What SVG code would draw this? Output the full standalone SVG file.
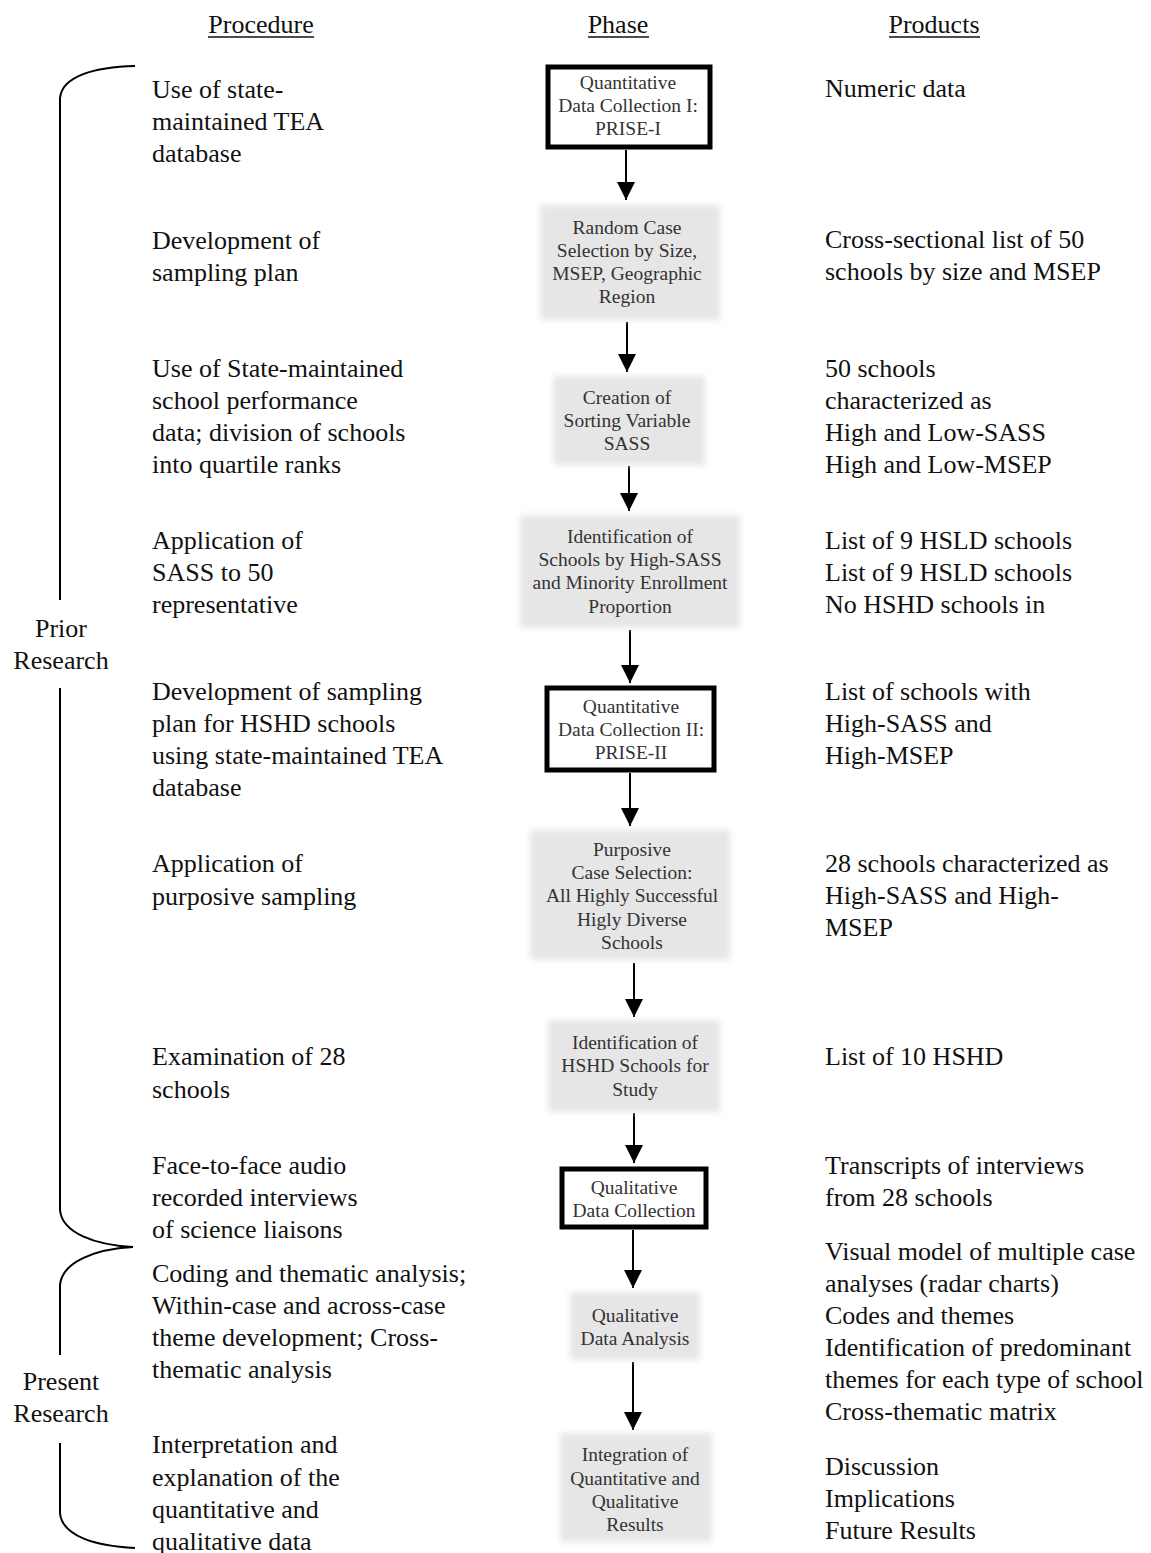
<svg xmlns="http://www.w3.org/2000/svg" width="1151" height="1553" viewBox="0 0 1151 1553">
<style>
.t{font-family:"Liberation Serif","Times New Roman",serif;font-size:26px;fill:#111}
.h{font-family:"Liberation Serif","Times New Roman",serif;font-size:26px;fill:#111;text-anchor:middle}
.b{font-family:"Liberation Serif","Times New Roman",serif;font-size:19.5px;fill:#333;text-anchor:middle}
.lbl{font-family:"Liberation Serif","Times New Roman",serif;font-size:26px;fill:#111;text-anchor:middle}
.thick{fill:#fff;stroke:#000;stroke-width:5}
.gray{fill:#e6e6e6;filter:url(#soft)}
.con{stroke:#000;stroke-width:2;fill:none;marker-end:url(#ah)}
.br{stroke:#000;stroke-width:2;fill:none}
.ul{stroke:#111;stroke-width:1.3}
</style>
<defs>
<filter id="soft" x="-10%" y="-10%" width="120%" height="120%"><feGaussianBlur stdDeviation="3"/></filter>
<marker id="ah" markerUnits="userSpaceOnUse" markerWidth="18" markerHeight="18" viewBox="0 0 18 18" refX="18" refY="9" orient="auto"><path d="M0,0 L18,9 L0,18 Z" fill="#000"/></marker>
</defs>
<rect width="1151" height="1553" fill="#fff"/>

<g id="headers">
<text class="h" x="261" y="33">Procedure</text>
<line class="ul" x1="208" y1="37" x2="314" y2="37"/>
<text class="h" x="618" y="33">Phase</text>
<line class="ul" x1="588" y1="37" x2="649" y2="37"/>
<text class="h" x="934" y="33">Products</text>
<line class="ul" x1="889" y1="37" x2="980" y2="37"/>
</g>

<g id="braces">
<path class="br" d="M135,66 C95,67 62,76 60,98 L60,600"/>
<path class="br" d="M60,688 L60,1210 C62,1233 95,1245 133,1247"/>
<path class="br" d="M133,1247 C95,1249 62,1262 60,1285 L60,1355"/>
<path class="br" d="M60,1443 L60,1513 C62,1536 95,1546 135,1548"/>
<text class="lbl" x="61" y="637">Prior</text>
<text class="lbl" x="61" y="669">Research</text>
<text class="lbl" x="61" y="1390">Present</text>
<text class="lbl" x="61" y="1422">Research</text>
</g>

<g id="connectors">
<line class="con" x1="626" y1="150" x2="626" y2="200"/>
<line class="con" x1="627" y1="322" x2="627" y2="372"/>
<line class="con" x1="629" y1="466" x2="629" y2="511"/>
<line class="con" x1="630" y1="630" x2="630" y2="683"/>
<line class="con" x1="630" y1="773" x2="630" y2="826"/>
<line class="con" x1="634" y1="963" x2="634" y2="1017"/>
<line class="con" x1="634" y1="1113" x2="634" y2="1163"/>
<line class="con" x1="633" y1="1230" x2="633" y2="1288"/>
<line class="con" x1="633" y1="1362" x2="633" y2="1430"/>
</g>

<g id="n1">
<rect class="thick" x="548" y="67" width="162" height="80"/>
<text class="b" x="628" y="89">Quantitative</text>
<text class="b" x="628" y="112">Data Collection I:</text>
<text class="b" x="628" y="135">PRISE-I</text>
</g>
<g id="n2">
<rect class="gray" x="540" y="205" width="180" height="115"/>
<text class="b" x="627" y="234">Random Case</text>
<text class="b" x="627" y="257">Selection by Size,</text>
<text class="b" x="627" y="280">MSEP, Geographic</text>
<text class="b" x="627" y="303">Region</text>
</g>
<g id="n3">
<rect class="gray" x="553" y="376" width="152" height="89"/>
<text class="b" x="627" y="404">Creation of</text>
<text class="b" x="627" y="427">Sorting Variable</text>
<text class="b" x="627" y="450">SASS</text>
</g>
<g id="n4">
<rect class="gray" x="520" y="515" width="220" height="113"/>
<text class="b" x="630" y="543">Identification of</text>
<text class="b" x="630" y="566">Schools by High-SASS</text>
<text class="b" x="630" y="589">and Minority Enrollment</text>
<text class="b" x="630" y="613">Proportion</text>
</g>
<g id="n5">
<rect class="thick" x="547" y="688" width="167" height="82"/>
<text class="b" x="631" y="713">Quantitative</text>
<text class="b" x="631" y="736">Data Collection II:</text>
<text class="b" x="631" y="759">PRISE-II</text>
</g>
<g id="n6">
<rect class="gray" x="530" y="830" width="200" height="130"/>
<text class="b" x="632" y="856">Purposive</text>
<text class="b" x="632" y="879">Case Selection:</text>
<text class="b" x="632" y="902">All Highly Successful</text>
<text class="b" x="632" y="926">Higly Diverse</text>
<text class="b" x="632" y="949">Schools</text>
</g>
<g id="n7">
<rect class="gray" x="548" y="1020" width="172" height="92"/>
<text class="b" x="635" y="1049">Identification of</text>
<text class="b" x="635" y="1072">HSHD Schools for</text>
<text class="b" x="635" y="1096">Study</text>
</g>
<g id="n8">
<rect class="thick" x="562" y="1169" width="144" height="58"/>
<text class="b" x="634" y="1194">Qualitative</text>
<text class="b" x="634" y="1217">Data Collection</text>
</g>
<g id="n9">
<rect class="gray" x="570" y="1292" width="130" height="68"/>
<text class="b" x="635" y="1322">Qualitative</text>
<text class="b" x="635" y="1345">Data Analysis</text>
</g>
<g id="n10">
<rect class="gray" x="560" y="1433" width="152" height="109"/>
<text class="b" x="635" y="1461">Integration of</text>
<text class="b" x="635" y="1485">Quantitative and</text>
<text class="b" x="635" y="1508">Qualitative</text>
<text class="b" x="635" y="1531">Results</text>
</g>

<g id="procedure">
<text class="t" x="152" y="98">Use of state-</text>
<text class="t" x="152" y="130">maintained TEA</text>
<text class="t" x="152" y="162">database</text>
<text class="t" x="152" y="249">Development of</text>
<text class="t" x="152" y="281">sampling plan</text>
<text class="t" x="152" y="377">Use of State-maintained</text>
<text class="t" x="152" y="409">school performance</text>
<text class="t" x="152" y="441">data; division of schools</text>
<text class="t" x="152" y="473">into quartile ranks</text>
<text class="t" x="152" y="549">Application of</text>
<text class="t" x="152" y="581">SASS to 50</text>
<text class="t" x="152" y="613">representative</text>
<text class="t" x="152" y="700">Development of sampling</text>
<text class="t" x="152" y="732">plan for HSHD schools</text>
<text class="t" x="152" y="764">using state-maintained TEA</text>
<text class="t" x="152" y="796">database</text>
<text class="t" x="152" y="872">Application of</text>
<text class="t" x="152" y="905">purposive sampling</text>
<text class="t" x="152" y="1065">Examination of 28</text>
<text class="t" x="152" y="1098">schools</text>
<text class="t" x="152" y="1174">Face-to-face audio</text>
<text class="t" x="152" y="1206">recorded interviews</text>
<text class="t" x="152" y="1238">of science liaisons</text>
<text class="t" x="152" y="1282">Coding and thematic analysis;</text>
<text class="t" x="152" y="1314">Within-case and across-case</text>
<text class="t" x="152" y="1346">theme development; Cross-</text>
<text class="t" x="152" y="1378">thematic analysis</text>
<text class="t" x="152" y="1453">Interpretation and</text>
<text class="t" x="152" y="1486">explanation of the</text>
<text class="t" x="152" y="1518">quantitative and</text>
<text class="t" x="152" y="1550">qualitative data</text>
</g>

<g id="products">
<text class="t" x="825" y="97">Numeric data</text>
<text class="t" x="825" y="248">Cross-sectional list of 50</text>
<text class="t" x="825" y="280">schools by size and MSEP</text>
<text class="t" x="825" y="377">50 schools</text>
<text class="t" x="825" y="409">characterized as</text>
<text class="t" x="825" y="441">High and Low-SASS</text>
<text class="t" x="825" y="473">High and Low-MSEP</text>
<text class="t" x="825" y="549">List of 9 HSLD schools</text>
<text class="t" x="825" y="581">List of 9 HSLD schools</text>
<text class="t" x="825" y="613">No HSHD schools in</text>
<text class="t" x="825" y="700">List of schools with</text>
<text class="t" x="825" y="732">High-SASS and</text>
<text class="t" x="825" y="764">High-MSEP</text>
<text class="t" x="825" y="872">28 schools characterized as</text>
<text class="t" x="825" y="904">High-SASS and High-</text>
<text class="t" x="825" y="936">MSEP</text>
<text class="t" x="825" y="1065">List of 10 HSHD</text>
<text class="t" x="825" y="1174">Transcripts of interviews</text>
<text class="t" x="825" y="1206">from 28 schools</text>
<text class="t" x="825" y="1260">Visual model of multiple case</text>
<text class="t" x="825" y="1292">analyses (radar charts)</text>
<text class="t" x="825" y="1324">Codes and themes</text>
<text class="t" x="825" y="1356">Identification of predominant</text>
<text class="t" x="825" y="1388">themes for each type of school</text>
<text class="t" x="825" y="1420">Cross-thematic matrix</text>
<text class="t" x="825" y="1475">Discussion</text>
<text class="t" x="825" y="1507">Implications</text>
<text class="t" x="825" y="1539">Future Results</text>
</g>
</svg>
